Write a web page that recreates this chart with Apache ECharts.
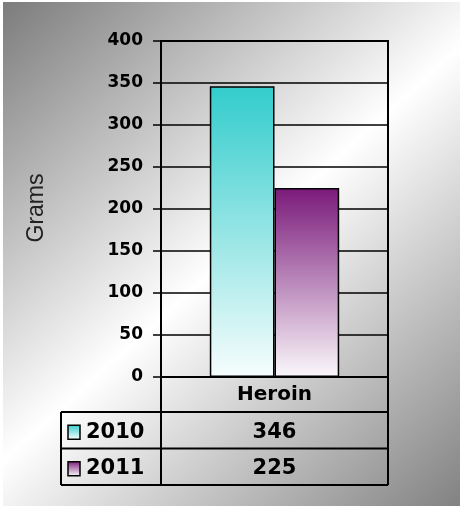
<!DOCTYPE html>
<html>
<head>
<meta charset="utf-8">
<script src="https://cdn.jsdelivr.net/npm/echarts@6/dist/echarts.min.js"></script>
<style>
html,body{margin:0;padding:0;background:#fff;}
#c{width:460px;height:506px;}
</style>
</head>
<body>
<div id="c"></div>
<script>
// ---- data ----
const categories = ['Heroin'];
const seriesNames = ['2010', '2011'];
const values2010 = [346];
const values2011 = [225];
const yAxisName = 'Grams';
const yMin = 0, yMax = 400, yInterval = 50;

// ---- styles ----
const colTop = ['#33cccc', '#7a1a7a'];
const colBottom = ['#f7fdfd', '#fbf8fb'];
const fontAxis = 'DejaVu Sans';

const G = { left: 161, right: 72, top: 41, bottom: 129 };
const W = 460, H = 506;

function grad(i) {
  return new echarts.graphic.LinearGradient(0, 0, 0, 1, [
    { offset: 0, color: colTop[i] },
    { offset: 1, color: colBottom[i] }
  ]);
}

const chart = echarts.init(document.getElementById('c'), null, { renderer: 'canvas' });

const option = {
  animation: false,
  backgroundColor: '#ffffff',
  grid: {
    left: G.left, right: G.right, top: G.top, bottom: G.bottom,
    show: true, borderColor: '#000', borderWidth: 2, backgroundColor: 'transparent'
  },
  xAxis: {
    type: 'category',
    data: categories,
    axisLine: { show: true, lineStyle: { color: '#000', width: 2 } },
    axisTick: { show: false },
    axisLabel: {
      color: '#000', fontFamily: fontAxis, fontWeight: 'bold', fontSize: 20,
      margin: 18, verticalAlign: 'middle'
    },
    splitLine: { show: false }
  },
  yAxis: {
    type: 'value',
    min: yMin, max: yMax, interval: yInterval,
    axisLine: { show: true, lineStyle: { color: '#000', width: 2 } },
    axisTick: { show: true, length: 8, lineStyle: { color: '#000', width: 1.5 } },
    axisLabel: {
      color: '#000', fontFamily: fontAxis, fontWeight: 'bold', fontSize: 17, margin: 18
    },
    splitLine: { show: true, lineStyle: { color: '#000', width: 1.5 } }
  },
  series: [
    {
      name: seriesNames[0], type: 'bar', data: values2010,
      barGap: '0%', barCategoryGap: '43%',
      itemStyle: { color: grad(0), borderColor: '#000', borderWidth: 1.5 }
    },
    {
      name: seriesNames[1], type: 'bar', data: values2011,
      barGap: '0%', barCategoryGap: '43%',
      itemStyle: { color: grad(1), borderColor: '#000', borderWidth: 1.5 }
    }
  ]
};
chart.setOption(option);

// ---- background, axis name and data table (layout built from grid geometry) ----
const gl = G.left, gr = W - G.right, gb = H - G.bottom;
const headerH = 35, rowH = 36.5, tableLeft = 61;
const catX = chart.convertToPixel({ xAxisIndex: 0 }, categories[0]);
const rowVals = [values2010, values2011];

const elems = [];
elems.push({
  type: 'rect', z: -100, silent: true,
  shape: { x: 3, y: 2, width: W - 3, height: H - 2 },
  style: {
    fill: new echarts.graphic.LinearGradient(0, 0, 1, 1, [
      { offset: 0, color: '#7c7c7c' },
      { offset: 0.5, color: '#ffffff' },
      { offset: 1, color: '#828282' }
    ])
  }
});
elems.push({
  type: 'text', x: 37, y: 208, rotation: Math.PI / 2,
  style: {
    text: yAxisName, font: '23px "Liberation Sans", Arial, sans-serif',
    fill: '#222', align: 'center', verticalAlign: 'middle'
  }
});
const lineStyle = { stroke: '#000', lineWidth: 2 };
const y1 = gb + headerH;
const yEnd = y1 + rowH * seriesNames.length;
for (let r = 0; r <= seriesNames.length; r++) {
  const yy = y1 + r * rowH;
  elems.push({ type: 'line', shape: { x1: tableLeft, y1: yy, x2: gr, y2: yy }, style: lineStyle, z: 10 });
}
elems.push({ type: 'line', shape: { x1: tableLeft, y1: y1, x2: tableLeft, y2: yEnd }, style: lineStyle, z: 10 });
elems.push({ type: 'line', shape: { x1: gl, y1: gb, x2: gl, y2: yEnd }, style: lineStyle, z: 10 });
elems.push({ type: 'line', shape: { x1: gr, y1: gb, x2: gr, y2: yEnd }, style: lineStyle, z: 10 });

seriesNames.forEach((name, i) => {
  const cy = y1 + i * rowH + rowH / 2 + 2;
  elems.push({
    type: 'rect', z: 10,
    shape: { x: 68, y: cy - 7, width: 12, height: 14 },
    style: {
      fill: new echarts.graphic.LinearGradient(0, 0, 0, 1, [
        { offset: 0, color: colTop[i] }, { offset: 1, color: '#ffffff' }
      ]),
      stroke: '#000', lineWidth: 1.5
    }
  });
  elems.push({
    type: 'text', z: 10, x: 86, y: cy,
    style: {
      text: name, font: 'bold 21px "DejaVu Sans", Verdana, sans-serif',
      fill: '#000', align: 'left', verticalAlign: 'middle'
    }
  });
  elems.push({
    type: 'text', z: 10, x: catX, y: cy,
    style: {
      text: String(rowVals[i][0]), font: 'bold 21px "DejaVu Sans", Verdana, sans-serif',
      fill: '#000', align: 'center', verticalAlign: 'middle'
    }
  });
});
chart.setOption({ graphic: { elements: elems } });
</script>
</body>
</html>
